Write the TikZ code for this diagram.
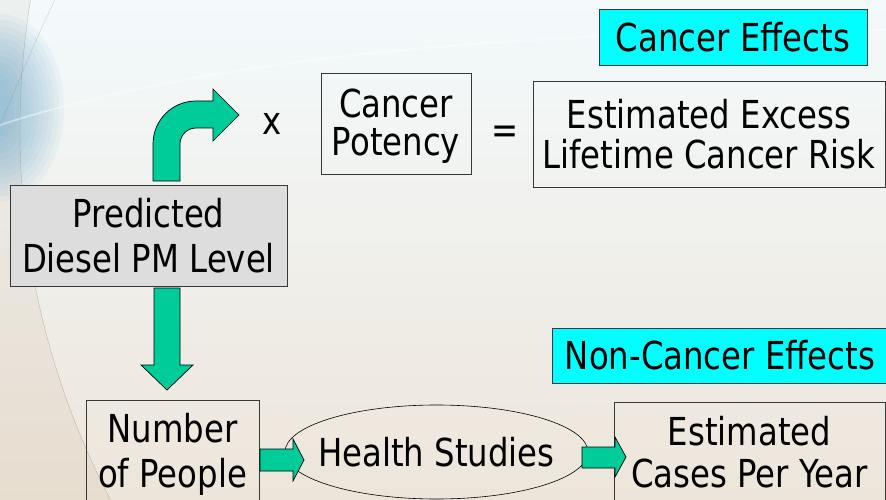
\documentclass[tikz,border=0pt]{standalone}
\usepackage{fontspec}
\setmainfont{DejaVu Sans}[FakeStretch=0.84]
\usepackage{tikz}
\usetikzlibrary{shapes.geometric}
\definecolor{slidegreen}{RGB}{0,204,153}
\definecolor{tagcyan}{RGB}{0,255,255}
\definecolor{boxgray}{RGB}{221,221,221}
\definecolor{edgegray}{RGB}{55,55,55}
\definecolor{bgTop}{RGB}{243,250,252}
\definecolor{bgMid}{RGB}{244,242,234}
\definecolor{bgBot}{RGB}{237,229,218}
\definecolor{skyblob}{RGB}{110,170,205}
\newcommand{\lift}[1]{\rule{0pt}{#1}}

\begin{document}
\begin{tikzpicture}[x=1pt,y=-1pt,
   every node/.style={font=\fontsize{38.5}{45}\selectfont},
   box/.style={draw=edgegray,line width=0.8pt,align=center,inner sep=0pt},
   tag/.style={box,fill=tagcyan},
   garrow/.style={draw=black,line width=0.7pt,fill=slidegreen}]
   % background
   \useasboundingbox (0,0) rectangle (886,500);
   \shade[top color=bgTop,middle color=bgMid,bottom color=bgBot] (0,0) rectangle (886,500);
   \begin{scope}
      \clip (0,0) rectangle (886,500);
      \fill[even odd rule,brown!60!gray,opacity=0.08] (0,0) rectangle (886,500) (820,130) circle[radius=800];
      \foreach \r in {12,...,1}
         \fill[skyblob,opacity=0.07] (0,108) ellipse[x radius=4+5*\r,y radius=22+6*\r];
      \draw[gray,opacity=0.45] (820,130) circle[radius=800];
      \draw[gray,opacity=0.35] (55,0) .. controls (35,40) and (15,90) .. (0,125);
      \draw[white,line width=2pt,opacity=0.4] (0,125) .. controls (200,60) and (500,30) .. (886,30);
   \end{scope}

   % boxes
   \node[tag,minimum width=268,minimum height=56] (cancerfx) at (733,37) {Cancer Effects};
   \node[tag,minimum width=336,minimum height=55] (noncancerfx) at (720,355.5) {Non-Cancer Effects};
   \node[box,fill=boxgray,minimum width=277,minimum height=101] (pm) at (148.5,235.5) {Predicted\\Diesel PM Level};
   \node[box,minimum width=150,minimum height=101,font=\fontsize{38.5}{38}\selectfont] (potency) at (396,123.5) {\lift{34pt}Cancer\\Potency};
   \node[box,minimum width=352,minimum height=106,font=\fontsize{38.5}{40}\selectfont] (risk) at (709,134) {Estimated Excess\\Lifetime Cancer Risk};
   \node[box,minimum width=173,minimum height=105] (people) at (172.5,452.5) {\lift{33pt}Number\\of People};
   \node[draw=black,ellipse,line width=0.6pt,inner sep=0pt,minimum width=303,minimum height=94] (health) at (436.5,452) {\makebox[0pt]{Health Studies}};
   \node[box,minimum width=271,minimum height=100,font=\fontsize{38.5}{42}\selectfont] (cases) at (749.5,452) {Estimated\\Cases Per Year};
   \node[anchor=base] (times) at (272,135) {x};
   \node[anchor=base] (equals) at (505,144) {=};

   % block arrows
   \draw[garrow] (153,181) -- (153,144) arc[start angle=180,end angle=270,radius=43]
      -- (213,101) -- (213,89) -- (239,115) -- (213,141) -- (213,128) -- (196,128)
      arc[start angle=270,end angle=180,radius=16] -- (180,181) -- cycle;
   \draw[garrow] (154,288) -- (180,288) -- (180,365) -- (193,365) -- (167,390) -- (141,365) -- (154,365) -- cycle;
   \draw[garrow] (260,449) -- (293,449) -- (293,439) -- (304,460) -- (293,481) -- (293,471) -- (260,471) -- cycle;
   \draw[garrow] (582,447) -- (615,447) -- (615,437) -- (626,457) -- (615,477) -- (615,468) -- (582,468) -- cycle;
\end{tikzpicture}
\end{document}
